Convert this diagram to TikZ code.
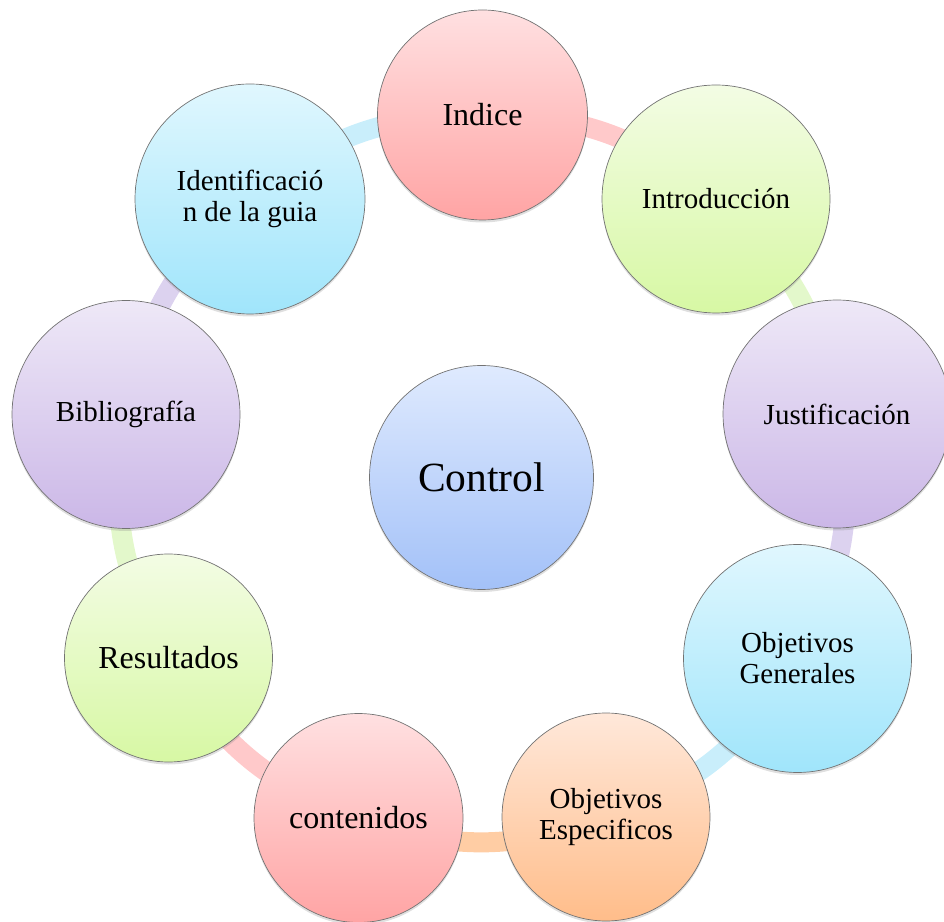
\documentclass[tikz,border=0pt]{standalone}
\usepackage{fontspec}
\setmainfont{Liberation Serif}
\usetikzlibrary{shadows}
\pgfdeclarelayer{background}
\pgfsetlayers{background,main}
\definecolor{redT}{HTML}{FFE0E1}
\definecolor{redB}{HTML}{FFA4A4}
\definecolor{greenT}{HTML}{F3FCE4}
\definecolor{greenB}{HTML}{D7F8A4}
\definecolor{purpT}{HTML}{EEE8F7}
\definecolor{purpB}{HTML}{CBB7E7}
\definecolor{blueT}{HTML}{E0F7FE}
\definecolor{blueB}{HTML}{A0E5FB}
\definecolor{orT}{HTML}{FFE8DA}
\definecolor{orB}{HTML}{FFBD8A}
\definecolor{ctlT}{HTML}{DFEAFE}
\definecolor{ctlB}{HTML}{A3C1F8}
\definecolor{redL}{HTML}{FFC9CA}
\definecolor{greenL}{HTML}{E3F8CB}
\definecolor{purpL}{HTML}{DCD2EF}
\definecolor{blueL}{HTML}{C9EEFB}
\definecolor{orL}{HTML}{FFCDA4}
\begin{document}
\begin{tikzpicture}[x=1pt,y=1pt,
  bub/.style={circle, inner sep=0pt, draw=black!55, line width=0.7pt, align=center,
    drop shadow={opacity=0.25, shadow xshift=0pt, shadow yshift=-2.5pt}},
  tx/.style={font=\fontsize{29}{31}\selectfont},
  txb/.style={font=\fontsize{32}{34}\selectfont},
  link/.style={line width=20pt}]
\useasboundingbox (0,0) rectangle (944,921);
\clip (0,0) rectangle (944,921);
\node[bub, txb, minimum size=210pt, top color=redT, bottom color=redB] (ind) at (482.5,806) {Indice};
\node[bub, tx, minimum size=228pt, top color=greenT, bottom color=greenB] (intro) at (716,722) {Introducción};
\node[bub, tx, minimum size=228pt, top color=purpT, bottom color=purpB] (just) at (837,507) {Justificación};
\node[bub, tx, minimum size=228pt, top color=blueT, bottom color=blueB] (gen) at (797.5,262.5) {Objetivos\\Generales};
\node[bub, tx, minimum size=208pt, top color=orT, bottom color=orB] (esp) at (606,104) {Objetivos\\Especificos};
\node[bub, txb, minimum size=209pt, top color=redT, bottom color=redB] (cont) at (358.5,103) {contenidos};
\node[bub, txb, minimum size=208pt, top color=greenT, bottom color=greenB] (res) at (168.5,263) {Resultados};
\node[bub, tx, minimum size=228pt, top color=purpT, bottom color=purpB] (bib) at (126,506.5) {Bibliografía};
\node[bub, tx, minimum size=230pt, top color=blueT, bottom color=blueB] (ident) at (250,722) {Identificació\\n de la guia};
\node[bub, font=\fontsize{41.5}{44}\selectfont, minimum size=224pt, top color=ctlT, bottom color=ctlB] (ctl) at (481.5,443.5) {Control};
\begin{pgfonlayer}{background}
\draw[link, redL] (ind.center) to[bend left=20] (intro.center);
\draw[link, greenL] (intro.center) to[bend left=20] (just.center);
\draw[link, purpL] (just.center) to[bend left=20] (gen.center);
\draw[link, blueL] (gen.center) to[bend left=20] (esp.center);
\draw[link, orL] (esp.center) to[bend left=20] (cont.center);
\draw[link, redL] (cont.center) to[bend left=20] (res.center);
\draw[link, greenL] (res.center) to[bend left=20] (bib.center);
\draw[link, purpL] (bib.center) to[bend left=20] (ident.center);
\draw[link, blueL] (ident.center) to[bend left=20] (ind.center);
\end{pgfonlayer}
\end{tikzpicture}
\end{document}
